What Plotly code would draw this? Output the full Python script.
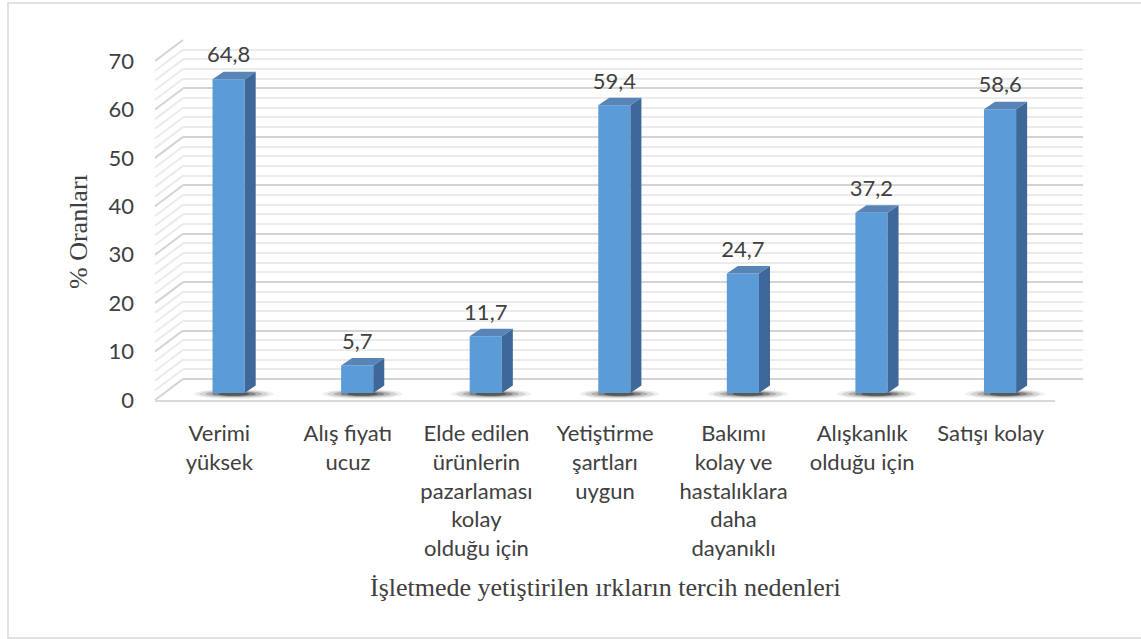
import plotly.graph_objects as go

# ---------------- data ----------------
categories = [
    "Verimi<br>yüksek",
    "Alış fiyatı<br>ucuz",
    "Elde edilen<br>ürünlerin<br>pazarlaması<br>kolay<br>olduğu için",
    "Yetiştirme<br>şartları<br>uygun",
    "Bakımı<br>kolay ve<br>hastalıklara<br>daha<br>dayanıklı",
    "Alışkanlık<br>olduğu için",
    "Satışı kolay",
]
values = [64.8, 5.7, 11.7, 59.4, 24.7, 37.2, 58.6]
y_ticks = [0, 10, 20, 30, 40, 50, 60, 70]
x_title = "İşletmede yetiştirilen ırkların tercih nedenleri"
y_title = "% Oranları"

# ---------------- geometry (pixels) ----------------
W, H = 1141, 639
FX0, FX1 = 155, 1055      # front floor edge, left/right
FY0 = 400                 # front zero line
YMAX = 70
S = 339 / YMAX            # px per unit
DX, DY = 28, 21           # depth offset of back wall
BAR_T = 1 / 3             # bars sit at one third of the depth


def px(xp):
    return xp / W


def py(yp):
    return 1 - yp / H


n = len(values)
cat_px = (FX1 - FX0) / n
xs = list(range(n))

MAJOR = "#d3d3d3"
MINOR = "#ebebeb"
TXT = "#404040"
FONT = "Lato"
SERIF = "Liberation Serif"

fig = go.Figure()

# --- back wall grid (subplot x/y) ---
fig.add_trace(go.Scatter(x=[None], y=[None], xaxis="x", yaxis="y",
                         showlegend=False, hoverinfo="skip"))

# --- front axes (subplot x2/y2) ---
fig.add_trace(go.Scatter(x=xs, y=[None] * n, xaxis="x2", yaxis="y2",
                         showlegend=False, hoverinfo="skip", mode="markers"))

# --- bars (subplot x3/y3) ---
w = 0.25
dxu = 11 / cat_px
dyu = 7.5 / S

fig.add_trace(go.Bar(x=xs, y=values, width=w, xaxis="x3", yaxis="y3",
                     marker=dict(color="#5b9bd8", line=dict(width=0)),
                     showlegend=False, hoverinfo="skip"))

side_x, side_y, top_x, top_y = [], [], [], []
for i, v in zip(xs, values):
    xr = i + w / 2
    xl = i - w / 2
    side_x += [xr, xr + dxu, xr + dxu, xr, xr, None]
    side_y += [0, dyu, v + dyu, v, 0, None]
    top_x += [xl, xr, xr + dxu, xl + dxu, xl, None]
    top_y += [v, v, v + dyu, v + dyu, v, None]

fig.add_trace(go.Scatter(x=side_x, y=side_y, xaxis="x3", yaxis="y3", mode="lines",
                         fill="toself", fillcolor="#3d6899", line=dict(width=0),
                         showlegend=False, hoverinfo="skip"))
fig.add_trace(go.Scatter(x=top_x, y=top_y, xaxis="x3", yaxis="y3", mode="lines",
                         fill="toself", fillcolor="#5884b8", line=dict(width=0),
                         showlegend=False, hoverinfo="skip"))
fig.add_trace(go.Scatter(x=xs, y=[v + 4.6 for v in values], xaxis="x3", yaxis="y3",
                         mode="text", text=[f"{v:.1f}".replace(".", ",") for v in values],
                         textfont=dict(family=FONT, size=22, color=TXT),
                         cliponaxis=False, showlegend=False, hoverinfo="skip"))

# ---------------- shapes ----------------
shapes = []
# outer frame
shapes.append(dict(type="rect", xref="paper", yref="paper",
                   x0=px(8), x1=px(W + 5), y0=py(638), y1=py(3),
                   line=dict(color="#d9d9d9", width=1.5), layer="below"))
# left side wall lines
for v in range(0, YMAX + 1, 2):
    col = MAJOR if v % 10 == 0 else MINOR
    shapes.append(dict(type="line", xref="paper", yref="paper",
                       x0=px(FX0), y0=py(FY0 - S * v),
                       x1=px(FX0 + DX), y1=py(FY0 - DY - S * v),
                       line=dict(color=col, width=2), layer="below"))
# bar shadows (soft blur emulated with stacked ellipses)
for i in xs:
    for hw, hh, op in [(0.31, 1.0, 0.07), (0.27, 0.8, 0.12), (0.22, 0.62, 0.2),
                       (0.17, 0.48, 0.3), (0.12, 0.36, 0.4)]:
        shapes.append(dict(type="circle", xref="x3", yref="y3",
                           x0=i + 0.04 - hw, x1=i + 0.04 + hw,
                           y0=-0.2 - hh, y1=-0.2 + hh,
                           fillcolor=f"rgba(25,25,25,{op})", line=dict(width=0),
                           layer="between"))

bar_y0 = FY0 - DY * BAR_T
bar_range = [-2, 76]

fig.update_layout(
    width=W, height=H, autosize=False,
    margin=dict(l=0, r=0, t=0, b=0, pad=0),
    paper_bgcolor="white", plot_bgcolor="rgba(0,0,0,0)",
    showlegend=False,
    shapes=shapes,
    xaxis=dict(domain=[px(FX0 + DX), px(FX1 + DX)], range=[-0.5, n - 0.5],
               anchor="y", showgrid=False, zeroline=False, showticklabels=False,
               showline=False, ticks="", automargin=False),
    yaxis=dict(domain=[py(FY0 - DY), py(FY0 - DY - S * YMAX)], range=[0, YMAX],
               anchor="x", showgrid=True, gridcolor=MAJOR, gridwidth=2, dtick=10, tick0=0,
               minor=dict(dtick=2, tick0=0, showgrid=True, gridcolor=MINOR, gridwidth=2),
               zeroline=True, zerolinecolor=MAJOR, zerolinewidth=2,
               showticklabels=False, showline=False, ticks="", automargin=False),
    xaxis2=dict(domain=[px(FX0), px(FX1)], range=[-0.5, n - 0.5], anchor="y2",
                tickmode="array", tickvals=xs, ticktext=categories,
                tickfont=dict(family=FONT, size=22, color=TXT),
                ticklabelstandoff=13, automargin=False,
                showgrid=False, zeroline=False, showline=True,
                linecolor="#d9d9d9", linewidth=2, ticks=""),
    yaxis2=dict(domain=[py(FY0), py(FY0 - S * YMAX)], range=[0, YMAX], anchor="x2",
                tickmode="array", tickvals=y_ticks, ticktext=[str(t) for t in y_ticks],
                tickfont=dict(family=FONT, size=22, color=TXT),
                ticklabelstandoff=20, automargin=False,
                showgrid=False, zeroline=False, showline=False, ticks=""),
    xaxis3=dict(domain=[px(FX0 + DX * BAR_T), px(FX1 + DX * BAR_T)], range=[-0.5, n - 0.5],
                anchor="y3", visible=False, automargin=False),
    yaxis3=dict(domain=[py(bar_y0 - S * bar_range[0]), py(bar_y0 - S * bar_range[1])],
                range=bar_range, anchor="x3", visible=False, automargin=False),
    annotations=[
        dict(text=y_title, xref="paper", yref="paper", x=px(78), y=py(232),
             xanchor="center", yanchor="middle", textangle=-90, showarrow=False,
             font=dict(family=SERIF, size=26, color=TXT)),
        dict(text=x_title, xref="paper", yref="paper", x=px(605), y=py(587),
             xanchor="center", yanchor="middle", showarrow=False,
             font=dict(family=SERIF, size=26, color=TXT)),
    ],
)

fig.write_html("out.html", config={"displayModeBar": False},
               post_script="document.body.style.margin='0';")
